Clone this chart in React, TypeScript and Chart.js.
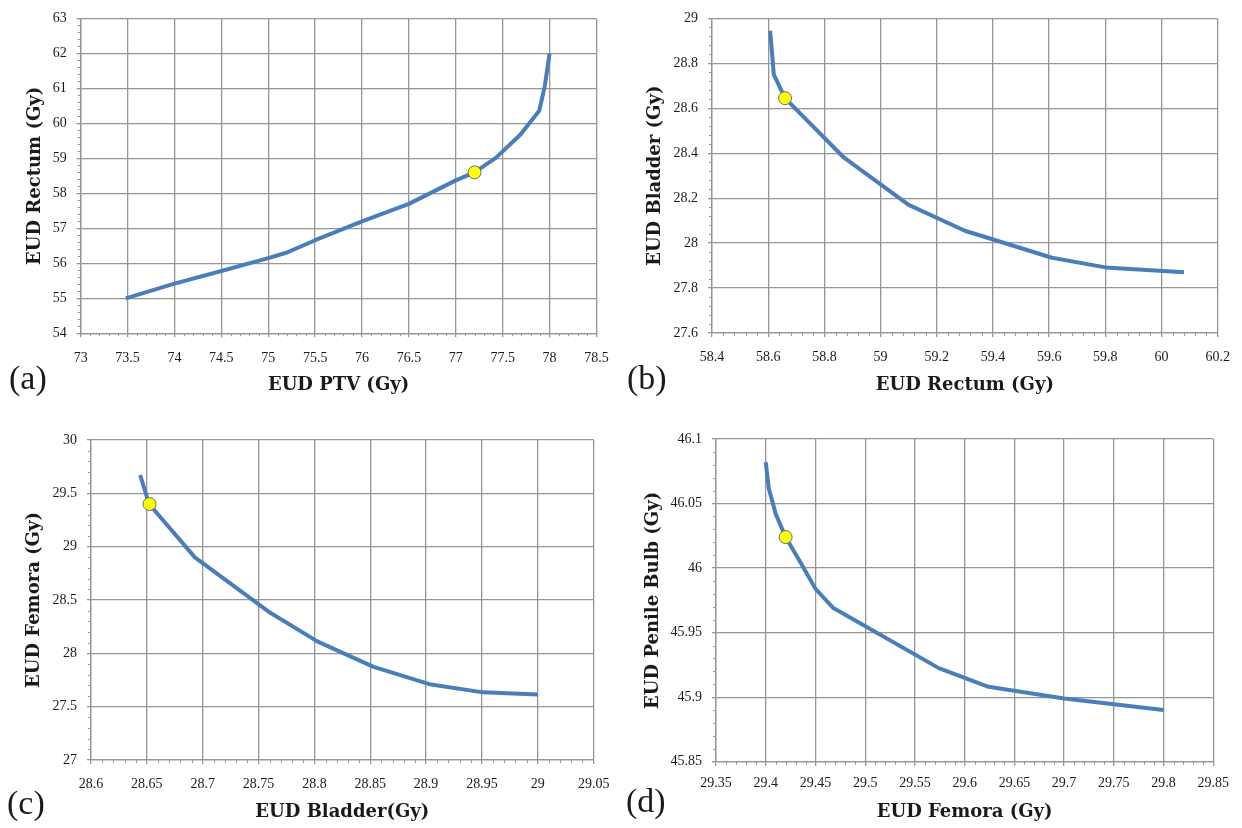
import React, { useEffect, useRef } from "react";
import { Chart, registerables } from "chart.js";
Chart.register(...registerables);

// ---- Panel (a): EUD PTV vs EUD Rectum ----
const ptvEudA = [73.48, 74.0, 74.5, 75.0, 75.2, 75.5, 76.0, 76.5, 77.0, 77.2, 77.43, 77.69, 77.89, 77.95, 78.0];
const rectumEudA = [55.0, 55.42, 55.78, 56.15, 56.31, 56.66, 57.2, 57.7, 58.37, 58.6, 59.02, 59.68, 60.36, 61.08, 62.0];
const markerA = [77.2, 58.6];
const xTicksA = [73, 73.5, 74, 74.5, 75, 75.5, 76, 76.5, 77, 77.5, 78, 78.5];
const yTicksA = [54, 55, 56, 57, 58, 59, 60, 61, 62, 63];

// ---- Panel (b): EUD Rectum vs EUD Bladder ----
const rectumEudB = [58.607, 58.62, 58.66, 58.87, 59.1, 59.3, 59.61, 59.8, 60.08];
const bladderEudB = [28.945, 28.75, 28.645, 28.38, 28.17, 28.055, 27.935, 27.892, 27.87];
const markerB = [58.66, 28.645];
const xTicksB = [58.4, 58.6, 58.8, 59, 59.2, 59.4, 59.6, 59.8, 60, 60.2];
const yTicksB = [27.6, 27.8, 28, 28.2, 28.4, 28.6, 28.8, 29];

// ---- Panel (c): EUD Bladder vs EUD Femora ----
const bladderEudC = [28.644, 28.652, 28.693, 28.759, 28.803, 28.853, 28.903, 28.951, 29.0];
const femoraEudC = [29.672, 29.4, 28.9, 28.39, 28.11, 27.873, 27.711, 27.634, 27.614];
const markerC = [28.6524, 29.4];
const xTicksC = [28.6, 28.65, 28.7, 28.75, 28.8, 28.85, 28.9, 28.95, 29, 29.05];
const yTicksC = [27, 27.5, 28, 28.5, 29, 29.5, 30];

// ---- Panel (d): EUD Femora vs EUD Penile Bulb ----
const femoraEudD = [29.4, 29.403, 29.41, 29.42, 29.436, 29.45, 29.468, 29.574, 29.624, 29.7, 29.8];
const bulbEudD = [46.082, 46.062, 46.042, 46.024, 46.003, 45.984, 45.969, 45.9225, 45.908, 45.899, 45.89];
const markerD = [29.42, 46.024];
const xTicksD = [29.35, 29.4, 29.45, 29.5, 29.55, 29.6, 29.65, 29.7, 29.75, 29.8, 29.85];
const yTicksD = [45.85, 45.9, 45.95, 46, 46.05, 46.1];

const BLUE = "#4a7ebb";
const GRID = "#959595";
const TEXT = "#1a1a1a";
const TITLE_SIZE = 18;
const LH = TITLE_SIZE * 1.2;
const CW = 621;
const CH = 414;

interface Panel {
  tag: string;
  xTitle: string;
  yTitle: string;
  xs: number[];
  ys: number[];
  marker: number[];
  xTicks: number[];
  yTicks: number[];
  left: number;
  top: number;
  plot: { l: number; t: number; r: number; b: number };
  xTickPad: number;
  yTitleX: number;
  xTitleY: number;
  tagX: number;
  tagY: number;
}

const panels: Panel[] = [
  {
    tag: "(a)", xTitle: "EUD PTV (Gy)", yTitle: "EUD Rectum (Gy)",
    xs: ptvEudA, ys: rectumEudA, marker: markerA, xTicks: xTicksA, yTicks: yTicksA,
    left: 0, top: 0, plot: { l: 80.7, t: 13.3, r: 599, b: 333.3 },
    xTickPad: 12.3, yTitleX: 35, xTitleY: 385, tagX: 9, tagY: 361,
  },
  {
    tag: "(b)", xTitle: "EUD Rectum (Gy)", yTitle: "EUD Bladder (Gy)",
    xs: rectumEudB, ys: bladderEudB, marker: markerB, xTicks: xTicksB, yTicks: yTicksB,
    left: 621, top: 0, plot: { l: 91, t: 13.3, r: 596.7, b: 333 },
    xTickPad: 12, yTitleX: 34, xTitleY: 385.5, tagX: 627, tagY: 361,
  },
  {
    tag: "(c)", xTitle: "EUD Bladder(Gy)", yTitle: "EUD Femora (Gy)",
    xs: bladderEudC, ys: femoraEudC, marker: markerC, xTicks: xTicksC, yTicks: yTicksC,
    left: 0, top: 414, plot: { l: 91, t: 26, r: 598, b: 346 },
    xTickPad: 11.6, yTitleX: 34, xTitleY: 398, tagX: 7, tagY: 786,
  },
  {
    tag: "(d)", xTitle: "EUD Femora (Gy)", yTitle: "EUD Penile Bulb (Gy)",
    xs: femoraEudD, ys: bulbEudD, marker: markerD, xTicks: xTicksD, yTicks: yTicksD,
    left: 621, top: 414, plot: { l: 95, t: 25, r: 592.3, b: 347.7 },
    xTickPad: 9, yTitleX: 32, xTitleY: 398, tagX: 626, tagY: 784,
  },
];

const minorTicks = {
  id: "minorTicks",
  afterDraw(chart: any) {
    const ctx = chart.ctx;
    const xs = chart.scales.x;
    const ys = chart.scales.y;
    ctx.save();
    ctx.strokeStyle = GRID;
    ctx.lineWidth = 1;
    const xv = xs.ticks.map((t: any) => t.value);
    for (let i = 0; i < xv.length - 1; i++) {
      for (let k = 1; k < 5; k++) {
        const px = Math.round(xs.getPixelForValue(xv[i] + ((xv[i + 1] - xv[i]) * k) / 5)) + 0.5;
        ctx.beginPath();
        ctx.moveTo(px, xs.top);
        ctx.lineTo(px, xs.top + 3);
        ctx.stroke();
      }
    }
    const yv = ys.ticks.map((t: any) => t.value);
    for (let i = 0; i < yv.length - 1; i++) {
      for (let k = 1; k < 5; k++) {
        const py = Math.round(ys.getPixelForValue(yv[i] + ((yv[i + 1] - yv[i]) * k) / 5)) + 0.5;
        ctx.beginPath();
        ctx.moveTo(ys.right - 3, py);
        ctx.lineTo(ys.right, py);
        ctx.stroke();
      }
    }
    ctx.restore();
  },
};

function PanelChart({ p }: { p: Panel }) {
  const ref = useRef<HTMLCanvasElement | null>(null);
  useEffect(() => {
    if (!ref.current) return;
    const tickFont = { family: "'Liberation Serif', serif", size: 14 };
    const titleFont = { family: "'DejaVu Serif', serif", size: TITLE_SIZE, weight: "bold" as const, lineHeight: 1.2 };
    const grid = { color: GRID, lineWidth: 1.3, tickLength: 4, drawTicks: true };
    const border = { display: true, color: GRID, width: 1.3 };
    const chart = new Chart(ref.current, {
      type: "scatter",
      data: {
        datasets: [
          {
            data: [{ x: p.marker[0], y: p.marker[1] }],
            pointRadius: 6.5,
            pointBackgroundColor: "#ffff00",
            pointBorderColor: "#5f6f80",
            pointBorderWidth: 1,
            showLine: false,
          },
          {
            data: p.xs.map((x, i) => ({ x, y: p.ys[i] })),
            showLine: true,
            borderColor: BLUE,
            borderWidth: 4,
            borderJoinStyle: "round",
            pointRadius: 0,
            tension: 0,
            fill: false,
          },
        ],
      } as any,
      options: {
        responsive: false,
        animation: false,
        events: [],
        layout: { padding: { left: 0, top: p.plot.t, right: CW - p.plot.r, bottom: 0 } },
        plugins: { legend: { display: false }, tooltip: { enabled: false } },
        scales: {
          x: {
            type: "linear",
            min: p.xTicks[0],
            max: p.xTicks[p.xTicks.length - 1],
            afterBuildTicks: (s: any) => {
              s.ticks = p.xTicks.map((v) => ({ value: v }));
            },
            afterFit: (s: any) => {
              s.height = CH - p.plot.b;
            },
            ticks: {
              callback: (v: any) => String(v),
              font: tickFont,
              color: TEXT,
              padding: p.xTickPad,
              maxRotation: 0,
              autoSkip: false,
            },
            grid,
            border,
            title: {
              display: true,
              text: p.xTitle,
              font: titleFont,
              color: TEXT,
              padding: { top: 0, bottom: CH - LH / 2 - p.xTitleY },
            },
          },
          y: {
            type: "linear",
            min: p.yTicks[0],
            max: p.yTicks[p.yTicks.length - 1],
            afterBuildTicks: (s: any) => {
              s.ticks = p.yTicks.map((v) => ({ value: v }));
            },
            afterFit: (s: any) => {
              s.width = p.plot.l;
            },
            ticks: {
              callback: (v: any) => String(v),
              font: tickFont,
              color: TEXT,
              padding: 10,
              autoSkip: false,
            },
            grid,
            border,
            title: {
              display: true,
              text: p.yTitle,
              font: titleFont,
              color: TEXT,
              padding: { top: p.yTitleX - LH / 2, bottom: 0 },
            },
          },
        },
      } as any,
      plugins: [minorTicks],
    });
    return () => chart.destroy();
  }, [p]);
  return (
    <canvas
      ref={ref}
      width={CW}
      height={CH}
      style={{ position: "absolute", left: p.left, top: p.top, width: CW, height: CH }}
    />
  );
}

export default function App() {
  return (
    <div style={{ position: "absolute", left: 0, top: 0, width: 1242, height: 828, background: "#fff", overflow: "hidden" }}>
      {panels.map((p) => (
        <PanelChart key={p.tag} p={p} />
      ))}
      {panels.map((p) => (
        <div
          key={p.tag + "-tag"}
          style={{
            position: "absolute",
            left: p.tagX,
            top: p.tagY,
            fontFamily: "'Liberation Serif', serif",
            fontSize: 34,
            lineHeight: "34px",
            color: TEXT,
          }}
        >
          {p.tag}
        </div>
      ))}
    </div>
  );
}
